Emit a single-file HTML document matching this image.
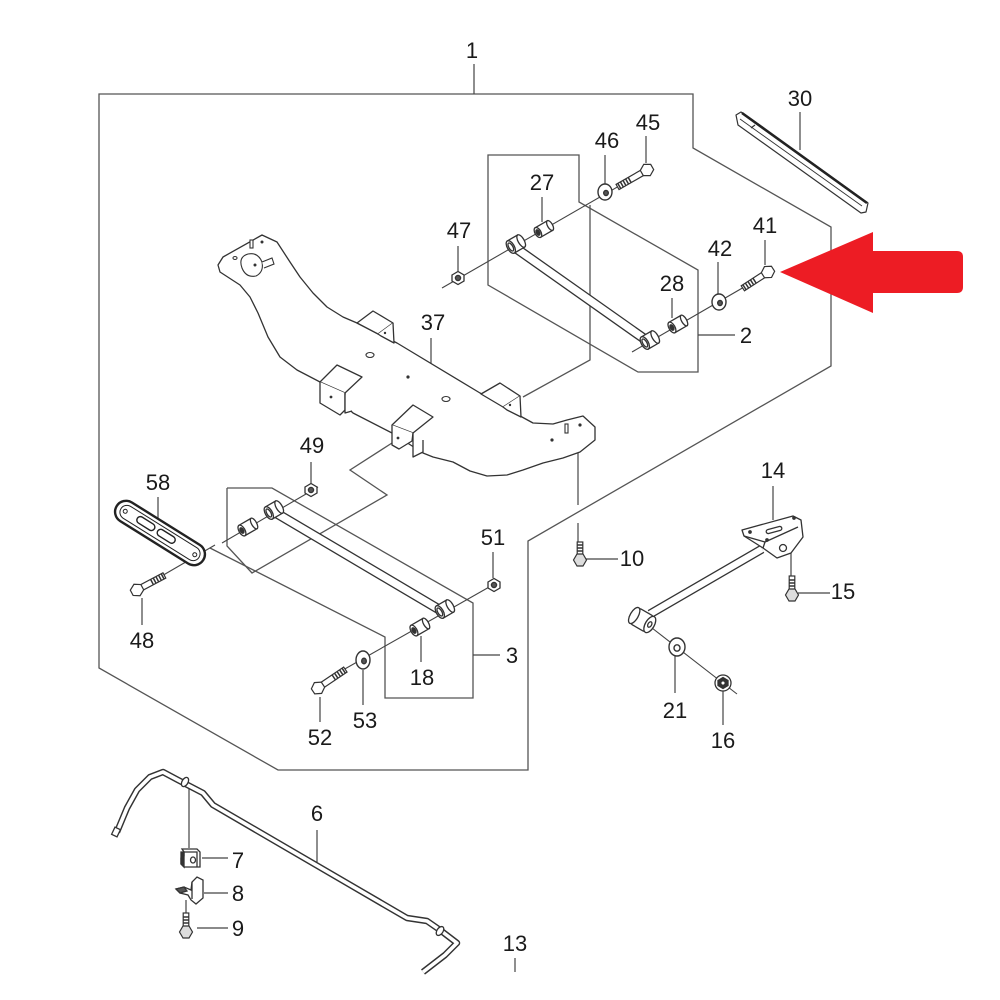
<!DOCTYPE html>
<html><head><meta charset="utf-8">
<style>
html,body{margin:0;padding:0;background:#fff}
svg{display:block}
text{font-family:"Liberation Sans",Arial,sans-serif;font-size:22px;fill:#1a1a1a;text-anchor:middle}
</style></head>
<body>
<svg width="1000" height="1000" viewBox="0 0 1000 1000" xmlns="http://www.w3.org/2000/svg">
<rect width="1000" height="1000" fill="#fff"/>

<!-- group outlines -->
<g fill="none" stroke="#555" stroke-width="1.3">
  <path d="M99,668 L99,94 L693,94 L693,148 L831,227 L831,366 L528,541 L528,770 L278,770 Z"/>
  <path d="M488,155 L579,155 L579,202 L698,270 L698,372 L638,372 L488,285 Z"/>
  <path d="M227,488 L272,488 L473,603 L473,698 L385,698 L385,637 L210,548"/>
  <path d="M227,488 L227,546 L252,573 L387,495 L350,470 L392,443"/>
  <path d="M590,205 L590,360 L523,397"/>
  <path d="M578,453 L578,505 M578,523 L578,547"/>
</g>

<!-- alignment lines -->
<g fill="none" stroke="#444" stroke-width="1.1">
  <path d="M442,288 L652,167"/>
  <path d="M632,352 L770,272"/>
  <path d="M222,543 L318,487"/>
  <path d="M343,670 L498,582"/>
  <path d="M160,577 L215,545"/>
  <path d="M652,628 L737,694"/>
</g>

<!-- leaders -->
<g fill="none" stroke="#444" stroke-width="1.2">
  <path d="M474,64 L474,94"/>
  <path d="M800,112 L800,150"/>
  <path d="M646,136 L646,163"/>
  <path d="M605,155 L605,184"/>
  <path d="M542,197 L542,222"/>
  <path d="M458,246 L458,271"/>
  <path d="M765,240 L765,265"/>
  <path d="M718,262 L718,294"/>
  <path d="M672,298 L672,318"/>
  <path d="M698,335 L735,335"/>
  <path d="M431,338 L431,365"/>
  <path d="M311,462 L311,483"/>
  <path d="M158,497 L158,522"/>
  <path d="M493,552 L493,578"/>
  <path d="M586,559 L618,559"/>
  <path d="M773,486 L773,520"/>
  <path d="M798,593 L830,593 M791,553 L791,583"/>
  <path d="M142,598 L142,625"/>
  <path d="M473,655 L500,655"/>
  <path d="M421,636 L421,662"/>
  <path d="M320,697 L320,722"/>
  <path d="M363,670 L363,705"/>
  <path d="M675,655 L675,693"/>
  <path d="M723,690 L723,725"/>
  <path d="M317,830 L317,862"/>
  <path d="M189,785 L189,848 M202,858 L228,858"/>
  <path d="M204,893 L228,893"/>
  <path d="M197,928 L228,928 M186,900 L186,917"/>
  <path d="M515,958 L515,972"/>
</g>

<!-- crossmember 37 -->
<g stroke="#333" stroke-width="1.3" fill="#fff" stroke-linejoin="round">
  <path d="M218,265 L223,257 L262,235 L277,242 L290,262 L300,277 L313,293 L327,307 L343,317 L357,323 L397,343 L480,393 L522,417 L533,423 L553,424 L567,420 L583,416 L595,427 L595,440 L580,452 L563,458 L543,463 L523,470 L507,475 L487,476 L470,471 L453,462 L433,457 L423,453 L392,433 L353,413 L320,382 L297,370 L280,357 L268,337 L258,313 L250,297 L240,285 L220,272 Z"/>
  <path d="M357,323 L373,311 L393,323 L378,334 Z"/>
  <path d="M393,323 L394,343 L381,336 L378,334"/>
  <path d="M481,394 L500,383 L520,396 L503,407 Z"/>
  <path d="M520,396 L521,417 L507,410 L503,407"/>
  <path d="M392,425 L413,405 L433,417 L413,433 Z"/>
  <path d="M392,425 L392,445 L399,449 L412,441 L413,433"/>
  <path d="M413,433 L413,457 L423,452 L423,440"/>
  <path d="M320,382 L337,365 L362,377 L345,393 Z"/>
  <path d="M320,382 L320,403 L340,415 L345,410 L345,393"/>
  <path d="M345,393 L345,413 L352,411"/>
</g>
<g fill="#fff" stroke="#333" stroke-width="1.1">
  <ellipse cx="370" cy="355" rx="4" ry="2.5"/>
  <ellipse cx="446" cy="399" rx="4" ry="2.5"/>
  <path d="M242,268 Q238,257 248,254 Q258,252 262,262 Q264,272 256,276 Q246,278 242,268 Z"/>
  <path d="M262,262 L272,258 L274,264 L264,268"/>
  <rect x="250" y="240" width="3" height="8"/>
  <ellipse cx="235" cy="258" rx="2" ry="1.5"/>
  <rect x="565" y="424" width="3" height="9"/>
</g>
<g fill="#333">
  <circle cx="408" cy="377" r="1.6"/>
  <circle cx="262" cy="242" r="1.5"/>
  <circle cx="580" cy="425" r="1.6"/>
  <circle cx="552" cy="440" r="1.6"/>
  <circle cx="331" cy="397" r="1.4"/>
  <circle cx="398" cy="438" r="1.4"/>
  <circle cx="385" cy="333" r="1.2"/>
  <circle cx="510" cy="405" r="1.2"/>
  <circle cx="255" cy="265" r="1.5"/>
</g>

<!-- bar 30 -->
<g stroke="#333" stroke-width="1.2" fill="#fff" stroke-linejoin="round">
  <path d="M736,115 L741,112 L868,203 L866,212 L861,213 L738,125 Z"/>
  <path d="M742,113 L867,203" fill="none" stroke="#222" stroke-width="2.6"/>
  <path d="M740,119 L862,206" fill="none" stroke-width="0.9"/>
  <path d="M751,128 L755,125" fill="none"/>
</g>

<!-- arm 2 tube -->
<path d="M517,249 L646,340" stroke="#333" stroke-width="10" fill="none"/>
<path d="M517,249 L646,340" stroke="#fff" stroke-width="7.4" fill="none"/>
<!-- arm 3 tube -->
<path d="M276,513 L440,610" stroke="#333" stroke-width="10" fill="none"/>
<path d="M276,513 L440,610" stroke="#fff" stroke-width="7.4" fill="none"/>
<!-- arm 14 rod -->
<path d="M762,549 L650,614" stroke="#333" stroke-width="9" fill="none"/>
<path d="M762,549 L650,614" stroke="#fff" stroke-width="6.4" fill="none"/>

<!-- cylinders -->
<g stroke="#333" stroke-width="1.3" fill="#fff">
  <g transform="translate(516,244) rotate(-30)">
    <rect x="-6" y="-7" width="12" height="14"/>
    <ellipse cx="6" cy="0" rx="3" ry="7"/>
    <ellipse cx="-6" cy="0" rx="3.5" ry="7"/>
    <ellipse cx="-6" cy="0" rx="2" ry="4.5"/>
  </g>
  <g transform="translate(650,340) rotate(-30)">
    <rect x="-6" y="-7" width="12" height="14"/>
    <ellipse cx="6" cy="0" rx="3" ry="7"/>
    <ellipse cx="-6" cy="0" rx="3.5" ry="7"/>
    <ellipse cx="-6" cy="0" rx="2" ry="4.5"/>
  </g>
  <g transform="translate(544,229) rotate(-30)">
    <rect x="-7" y="-5.5" width="14" height="11"/>
    <ellipse cx="7" cy="0" rx="2.5" ry="5.5"/>
    <ellipse cx="-7" cy="0" rx="3" ry="5.5"/>
    <ellipse cx="-7" cy="0" rx="1.6" ry="3" fill="#333"/>
  </g>
  <g transform="translate(678,324) rotate(-30)">
    <rect x="-7" y="-6" width="14" height="12"/>
    <ellipse cx="7" cy="0" rx="2.5" ry="6"/>
    <ellipse cx="-7" cy="0" rx="3" ry="6"/>
    <ellipse cx="-7" cy="0" rx="1.6" ry="3" fill="#333"/>
  </g>
  <g transform="translate(274,510) rotate(-30)">
    <rect x="-6" y="-7" width="12" height="14"/>
    <ellipse cx="6" cy="0" rx="3" ry="7"/>
    <ellipse cx="-6" cy="0" rx="3.5" ry="7"/>
    <ellipse cx="-6" cy="0" rx="2" ry="4.5"/>
  </g>
  <g transform="translate(445,609) rotate(-30)">
    <rect x="-6" y="-7" width="12" height="14"/>
    <ellipse cx="6" cy="0" rx="3" ry="7"/>
    <ellipse cx="-6" cy="0" rx="3.5" ry="7"/>
    <ellipse cx="-6" cy="0" rx="2" ry="4.5"/>
  </g>
  <g transform="translate(248,527) rotate(-30)">
    <rect x="-7" y="-6" width="14" height="12"/>
    <ellipse cx="7" cy="0" rx="2.5" ry="6"/>
    <ellipse cx="-7" cy="0" rx="3" ry="6"/>
    <ellipse cx="-7" cy="0" rx="1.6" ry="3" fill="#333"/>
  </g>
  <g transform="translate(420,627) rotate(-30)">
    <rect x="-7" y="-6" width="14" height="12"/>
    <ellipse cx="7" cy="0" rx="2.5" ry="6"/>
    <ellipse cx="-7" cy="0" rx="3" ry="6"/>
    <ellipse cx="-7" cy="0" rx="1.6" ry="3" fill="#333"/>
  </g>
  <g transform="translate(642,620) rotate(30)">
    <rect x="-9" y="-9" width="18" height="18" rx="3"/>
    <ellipse cx="-9" cy="0" rx="4" ry="9"/>
    <ellipse cx="9" cy="0" rx="4.5" ry="9"/>
    <ellipse cx="9" cy="0" rx="1.8" ry="3"/>
  </g>
</g>

<!-- bracket 14 -->
<g stroke="#333" stroke-width="1.3" fill="#fff" stroke-linejoin="round">
  <path d="M742,530 L793,516 L801,520 L803,537 L791,553 L777,558 L763,548 L744,536 Z"/>
  <path d="M763,548 L765,542 L744,536" fill="none"/>
  <path d="M765,542 L798,527" fill="none"/>
  <rect x="766" y="528" width="16" height="4" rx="2" transform="rotate(-15 774 530)"/>
  <circle cx="783" cy="548" r="3.5"/>
  <circle cx="794" cy="518" r="1.2" fill="#333"/>
  <circle cx="750" cy="532" r="1.2" fill="#333"/>
  <circle cx="767" cy="540" r="1.2" fill="#333"/>
</g>

<!-- plate 58 -->
<g transform="translate(160,533) rotate(32)" fill="#fff" stroke="#222">
  <rect x="-51" y="-11" width="102" height="22" rx="11" stroke-width="2.4"/>
  <rect x="-46" y="-7" width="92" height="14" rx="7" stroke-width="1" />
  <rect x="-27" y="-4" width="20" height="7" rx="3.5" stroke-width="1.4"/>
  <rect x="-3" y="-4" width="20" height="7" rx="3.5" stroke-width="1.4"/>
  <circle cx="-41" cy="0" r="2" stroke-width="1"/>
  <circle cx="41" cy="0" r="2" stroke-width="1"/>
</g>

<!-- washers -->
<g stroke="#333" stroke-width="1.4" fill="#fff">
  <ellipse cx="605" cy="192" rx="7" ry="8"/><ellipse cx="606" cy="193" rx="2.3" ry="2.6" fill="#555"/>
  <ellipse cx="719" cy="302" rx="7" ry="8"/><ellipse cx="720" cy="303" rx="2.3" ry="2.6" fill="#555"/>
  <ellipse cx="363" cy="660" rx="7" ry="9"/><ellipse cx="364" cy="661" rx="2.3" ry="2.8" fill="#555"/>
  <ellipse cx="677" cy="647" rx="8" ry="9"/><ellipse cx="677" cy="648" rx="3" ry="3.2"/>
</g>

<!-- nuts -->
<g stroke="#333" stroke-width="1.3" fill="#fff">
  <g transform="translate(458,278)"><polygon points="-6,-3 0,-6.5 6,-3 6,3 0,6.5 -6,3"/><circle r="2.6" fill="#555"/></g>
  <g transform="translate(311,490)"><polygon points="-6,-3 0,-6.5 6,-3 6,3 0,6.5 -6,3"/><circle r="2.6" fill="#555"/></g>
  <g transform="translate(494,585)"><polygon points="-6,-3 0,-6.5 6,-3 6,3 0,6.5 -6,3"/><circle r="2.6" fill="#555"/></g>
  <g transform="translate(723,683)"><ellipse rx="8" ry="8"/><polygon points="-5,-2.5 0,-5.5 5,-2.5 5,2.5 0,5.5 -5,2.5" fill="#333"/><circle r="2.2" fill="#fff"/></g>
</g>

<!-- bolts -->
<g stroke="#333" stroke-width="1.2" fill="#fff">
  <g transform="translate(647,170) rotate(150)">
    <rect x="5" y="-3" width="29" height="6"/>
    <path d="M20,-3 L20,3 M23,-3 L23,3 M26,-3 L26,3 M29,-3 L29,3 M32,-3 L32,3" stroke-width="1.5"/>
    <polygon points="-6,-3 0,-6.5 6,-3 6,3 0,6.5 -6,3"/>
  </g>
  <g transform="translate(768,272) rotate(147)">
    <rect x="5" y="-3" width="25" height="6"/>
    <path d="M16,-3 L16,3 M19,-3 L19,3 M22,-3 L22,3 M25,-3 L25,3 M28,-3 L28,3" stroke-width="1.5"/>
    <polygon points="-6,-3 0,-6.5 6,-3 6,3 0,6.5 -6,3"/>
  </g>
  <g transform="translate(137,590) rotate(-28)">
    <rect x="5" y="-3" width="26" height="6"/>
    <path d="M17,-3 L17,3 M20,-3 L20,3 M23,-3 L23,3 M26,-3 L26,3 M29,-3 L29,3" stroke-width="1.5"/>
    <polygon points="-6,-3 0,-6.5 6,-3 6,3 0,6.5 -6,3"/>
  </g>
  <g transform="translate(318,688) rotate(-34)">
    <rect x="5" y="-3" width="28" height="6"/>
    <path d="M19,-3 L19,3 M22,-3 L22,3 M25,-3 L25,3 M28,-3 L28,3 M31,-3 L31,3" stroke-width="1.5"/>
    <polygon points="-6,-3 0,-6.5 6,-3 6,3 0,6.5 -6,3"/>
  </g>
  <g transform="translate(580,560) rotate(-90)">
    <rect x="5" y="-2.8" width="13" height="5.6"/>
    <path d="M9,-3 L9,3 M12,-3 L12,3 M15,-3 L15,3" stroke-width="1.4"/>
    <polygon points="-6,-3 0,-6.5 6,-3 6,3 0,6.5 -6,3" fill="#ddd"/>
  </g>
  <g transform="translate(792,595) rotate(-90)">
    <rect x="5" y="-2.8" width="14" height="5.6"/>
    <path d="M9,-3 L9,3 M12,-3 L12,3 M15,-3 L15,3" stroke-width="1.4"/>
    <polygon points="-6,-3 0,-6.5 6,-3 6,3 0,6.5 -6,3" fill="#ddd"/>
  </g>
  <g transform="translate(186,932) rotate(-90)">
    <rect x="5" y="-2.8" width="14" height="5.6"/>
    <path d="M9,-3 L9,3 M12,-3 L12,3 M15,-3 L15,3" stroke-width="1.4"/>
    <polygon points="-6,-3 0,-6.5 6,-3 6,3 0,6.5 -6,3" fill="#ddd"/>
  </g>
</g>

<!-- sway bar 6 -->
<path d="M117,832 L127,808 L137,790 L150,777 L163,772 L178,780 L203,793 L213,805 L407,918 L427,921 L440,930 L457,943 L445,955 L423,972" stroke="#333" stroke-width="6.5" fill="none" stroke-linejoin="round"/>
<path d="M117,832 L127,808 L137,790 L150,777 L163,772 L178,780 L203,793 L213,805 L407,918 L427,921 L440,930 L457,943 L445,955 L423,972" stroke="#fff" stroke-width="3.6" fill="none" stroke-linejoin="round"/>
<g stroke="#333" stroke-width="1.3" fill="#fff">
  <ellipse cx="185" cy="782" rx="3" ry="5" transform="rotate(30 185 782)"/>
  <ellipse cx="440" cy="931" rx="3" ry="5" transform="rotate(35 440 931)"/>
  <rect x="112" y="829" width="8" height="6" transform="rotate(-65 116 832)"/>
  <!-- bushing 7 -->
  <path d="M182,849 L197,849 L200,852 L200,867 L184,867 L181,864 L181,858 L184,856 L184,852 Z"/>
  <path d="M181,852 L184,852 L184,867 L181,864 Z" fill="#333"/>
  <path d="M184,852 L197,852 L197,867" fill="none"/>
  <ellipse cx="193" cy="860" rx="2.5" ry="3"/>
  <!-- bracket 8 -->
  <path d="M176,889 L184,887 L191,890 L192,882 L197,877 L203,880 L203,898 L196,904 L191,900 L188,895 L180,893 Z"/>
  <path d="M192,882 L192,899" fill="none"/>
  <path d="M176,889 L184,887 L187,891 L180,893 Z" fill="#555"/>
</g>

<!-- red arrow -->
<path d="M780,272 L873,232 L873,251 L957,251 Q963,251 963,257 L963,287 Q963,293 957,293 L873,293 L873,313 Z" fill="#ED1C24"/>

<!-- labels -->
<text x="472" y="58">1</text>
<text x="800" y="106">30</text>
<text x="648" y="130">45</text>
<text x="607" y="148">46</text>
<text x="542" y="190">27</text>
<text x="459" y="238">47</text>
<text x="765" y="233">41</text>
<text x="720" y="256">42</text>
<text x="672" y="291">28</text>
<text x="746" y="343">2</text>
<text x="433" y="330">37</text>
<text x="312" y="453">49</text>
<text x="158" y="490">58</text>
<text x="493" y="545">51</text>
<text x="632" y="566">10</text>
<text x="773" y="478">14</text>
<text x="843" y="599">15</text>
<text x="142" y="648">48</text>
<text x="512" y="663">3</text>
<text x="422" y="685">18</text>
<text x="320" y="745">52</text>
<text x="365" y="728">53</text>
<text x="675" y="718">21</text>
<text x="723" y="748">16</text>
<text x="317" y="821">6</text>
<text x="238" y="868">7</text>
<text x="238" y="901">8</text>
<text x="238" y="936">9</text>
<text x="515" y="951">13</text>
</svg>
</body></html>
